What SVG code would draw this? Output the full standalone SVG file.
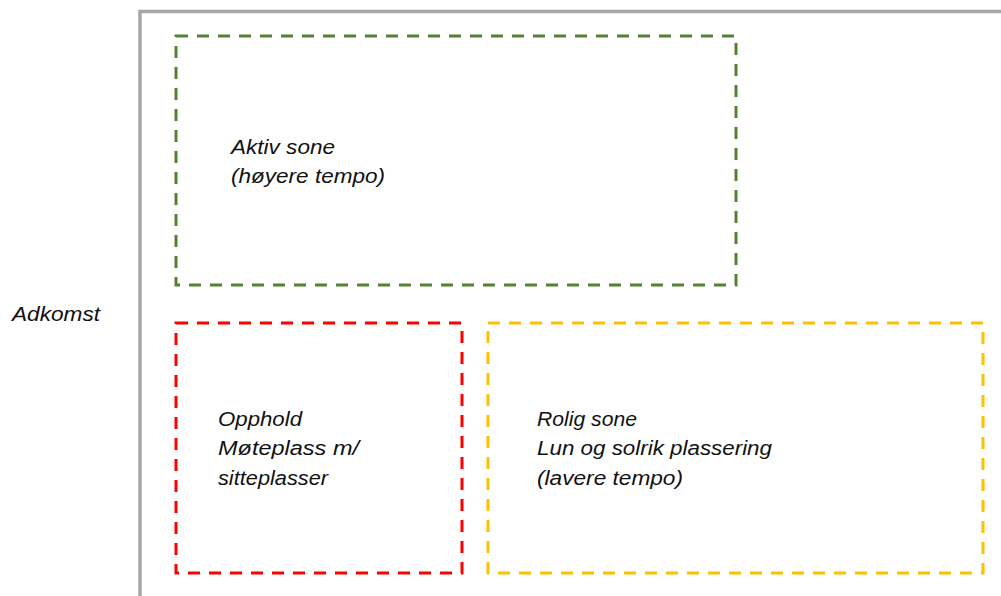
<svg xmlns="http://www.w3.org/2000/svg" width="1001" height="596" viewBox="0 0 1001 596">
<style>
.zone{fill:none;stroke-width:3;stroke-dasharray:12 9}
.t{font-family:"Liberation Sans","Open Sans",sans-serif;font-style:italic;font-size:20px;fill:#111111}
</style>
<rect width="1001" height="596" fill="#ffffff"/>
<g id="frame">
<path d="M140,596 V11.5 H1001" fill="none" stroke="#a6a6a6" stroke-width="3.5"/>
</g>
<g id="adkomst">
<text class="t" x="12" y="321" textLength="88" lengthAdjust="spacingAndGlyphs">Adkomst</text>
</g>
<g id="aktiv-sone">
<rect class="zone" x="176" y="36" width="560" height="249" stroke="#548235"/>
<text class="t" x="231" y="154" textLength="104" lengthAdjust="spacingAndGlyphs">Aktiv sone</text>
<text class="t" x="231" y="183" textLength="154" lengthAdjust="spacingAndGlyphs">(høyere tempo)</text>
</g>
<g id="opphold">
<rect class="zone" x="176" y="323" width="286" height="250" stroke="#ff0000"/>
<text class="t" x="218" y="426" textLength="84" lengthAdjust="spacingAndGlyphs">Opphold</text>
<text class="t" x="218" y="455" textLength="141" lengthAdjust="spacingAndGlyphs">Møteplass m/</text>
<text class="t" x="218" y="485" textLength="110" lengthAdjust="spacingAndGlyphs">sitteplasser</text>
</g>
<g id="rolig-sone">
<rect class="zone" x="488" y="323" width="495" height="250" stroke="#ffc000"/>
<text class="t" x="537" y="426" textLength="100" lengthAdjust="spacingAndGlyphs">Rolig sone</text>
<text class="t" x="537" y="455" textLength="235" lengthAdjust="spacingAndGlyphs">Lun og solrik plassering</text>
<text class="t" x="537" y="485" textLength="146" lengthAdjust="spacingAndGlyphs">(lavere tempo)</text>
</g>
<g id="connectors"></g>
</svg>
